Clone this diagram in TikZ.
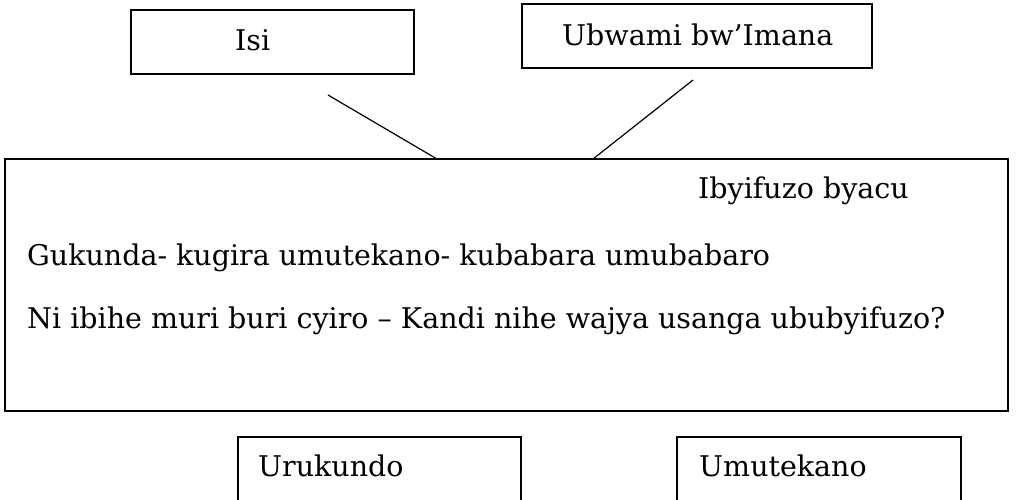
\documentclass[tikz,border=0pt]{standalone}
\usepackage{fontspec}
\setmainfont{DejaVu Serif}
\begin{document}
\begin{tikzpicture}[x=1pt,y=-1pt,
  box/.style={draw=black,line width=1.3pt},
  conn/.style={draw=black,line width=1.2pt},
  txt/.style={anchor=base west,inner sep=0pt,font=\fontsize{28.5}{32}\selectfont}]
\clip (0,0) rectangle (1016,499);
\fill[white] (0,0) rectangle (1016,499);
% top boxes
\draw[box] (131,10) rectangle (414,74);
\node[txt] (isi) at (235,50) {Isi};
\draw[box] (522,4) rectangle (872,68);
\node[txt] (ubwami) at (562,45) {Ubwami bw’Imana};
% main box
\draw[box] (5,159) rectangle (1008,411);
\node[txt] (ibyifuzo) at (698,198) {Ibyifuzo byacu};
\node[txt] (l1) at (27,265) {Gukunda- kugira umutekano- kubabara umubabaro};
\node[txt] (l2) at (27,328) {Ni ibihe muri buri cyiro – Kandi nihe wajya usanga ububyifuzo?};
% bottom boxes
\draw[box] (238,437) rectangle (521,520);
\node[txt] (uru) at (258,476) {Urukundo};
\draw[box] (677,437) rectangle (961,520);
\node[txt] (umu) at (699,476) {Umutekano};
% connectors
\coordinate (a1) at (328,95);
\coordinate (a2) at (437,159);
\coordinate (b1) at (693,80);
\coordinate (b2) at (593,159);
\draw[conn] (a1) -- (a2);
\draw[conn] (b1) -- (b2);
\end{tikzpicture}
\end{document}
